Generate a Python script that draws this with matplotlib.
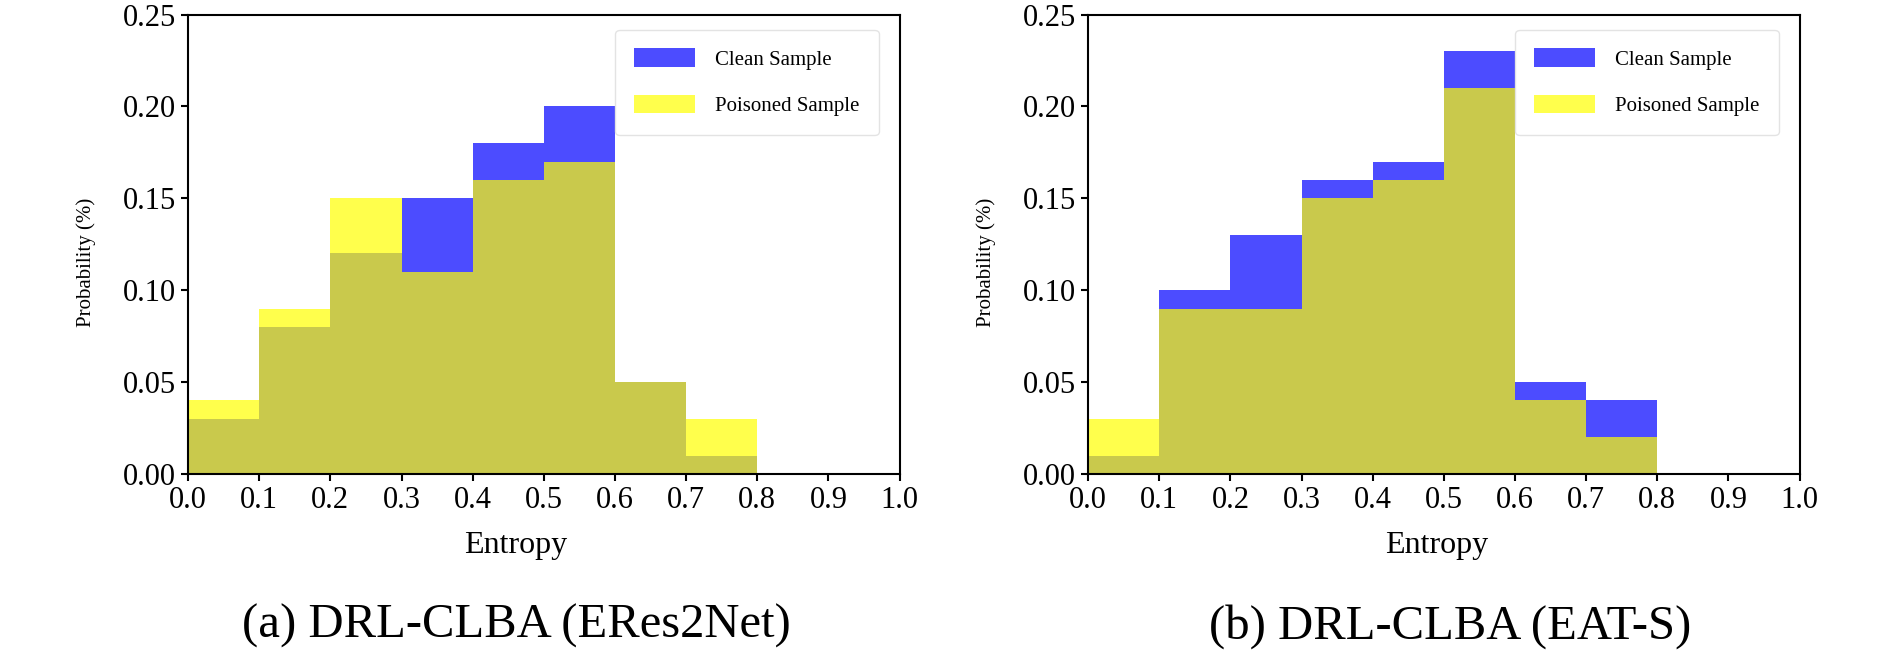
import numpy as np
import matplotlib
matplotlib.use("Agg")
import matplotlib.pyplot as plt

plt.rcParams['font.family'] = ['Liberation Serif', 'DejaVu Serif']

# bin edges (left) and heights
bins = [0.0, 0.1, 0.2, 0.3, 0.4, 0.5, 0.6, 0.7]
bin_width = 0.1

eres_clean = [0.03, 0.08, 0.12, 0.15, 0.18, 0.20, 0.05, 0.01]
eres_poison = [0.04, 0.09, 0.15, 0.11, 0.16, 0.17, 0.05, 0.03]

eat_clean = [0.01, 0.10, 0.13, 0.16, 0.17, 0.23, 0.05, 0.04]
eat_poison = [0.03, 0.09, 0.09, 0.15, 0.16, 0.21, 0.04, 0.02]

captions = ["(a) DRL-CLBA (ERes2Net)", "(b) DRL-CLBA (EAT-S)"]
xticks = [0.0, 0.1, 0.2, 0.3, 0.4, 0.5, 0.6, 0.7, 0.8, 0.9, 1.0]
yticks = [0.00, 0.05, 0.10, 0.15, 0.20, 0.25]

fig = plt.figure(figsize=(18.9, 6.62), dpi=100)
ax1 = fig.add_axes([0.0995, 0.284, 0.3765, 0.694])
ax2 = fig.add_axes([0.5757, 0.284, 0.3765, 0.694])


def draw(ax, clean, poison, xlab_x):
    ax.bar(bins, clean, width=bin_width, align='edge', color='blue', alpha=0.7,
           label='Clean Sample')
    ax.bar(bins, poison, width=bin_width, align='edge', color='yellow', alpha=0.7,
           label='Poisoned Sample')
    ax.set_xlim(0, 1.0)
    ax.set_ylim(0, 0.25)
    ax.set_xticks(xticks)
    ax.set_xticklabels([f"{t:.1f}" for t in xticks])
    ax.set_yticks(yticks)
    ax.set_yticklabels([f"{t:.2f}" for t in yticks])
    ax.tick_params(labelsize=22, width=1.5, length=5)
    for s in ax.spines.values():
        s.set_linewidth(1.5)
    ax.set_xlabel("Entropy", fontsize=23)
    ax.xaxis.set_label_coords(xlab_x, -0.125)
    ax.set_ylabel("Probability (%)", fontsize=15)
    ax.yaxis.set_label_coords(-0.13, 0.46)
    leg = ax.legend(loc='upper right', fontsize=15, handlelength=2.9, handleheight=1.0,
                    labelspacing=1.2, borderpad=0.9, handletextpad=1.0,
                    bbox_to_anchor=(0.985, 0.99))
    leg.get_frame().set_edgecolor('#dddddd')


draw(ax1, eres_clean, eres_poison, 0.46)
draw(ax2, eat_clean, eat_poison, 0.49)

fig.text(0.273, 0.054, captions[0], fontsize=35, ha='center', va='center')
fig.text(0.767, 0.054, captions[1], fontsize=35, ha='center', va='center')

fig.savefig("out.png", dpi=100)
